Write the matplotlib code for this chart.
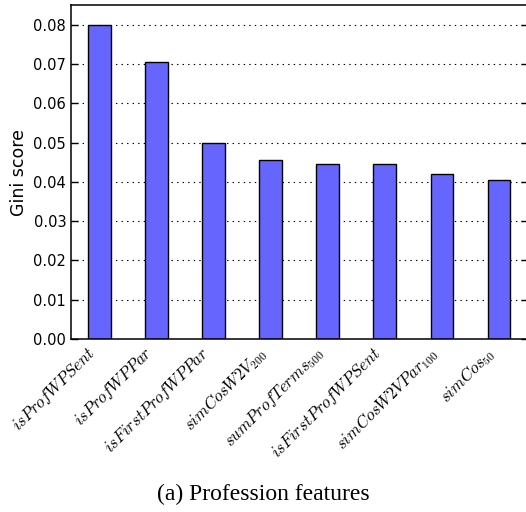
import numpy as np
import matplotlib
matplotlib.use("Agg")
import matplotlib.pyplot as plt

features = [r"$isProfWPSent$", r"$isProfWPPar$", r"$isFirstProfWPPar$",
            r"$simCosW2V_{200}$", r"$sumProfTerms_{500}$", r"$isFirstProfWPSent$",
            r"$simCosW2VPar_{100}$", r"$simCos_{50}$"]
gini = [0.0800, 0.0704, 0.0500, 0.0456, 0.0445, 0.0445, 0.0420, 0.0405]
yticks = [0.00, 0.01, 0.02, 0.03, 0.04, 0.05, 0.06, 0.07, 0.08]

plt.rcParams["mathtext.fontset"] = "cm"
plt.rcParams["lines.scale_dashes"] = False

fig = plt.figure(figsize=(5.26, 5.12), dpi=100)
ax = fig.add_axes([0.135, 0.338, 0.868, 0.652])

x = np.arange(len(gini))
ax.bar(x, gini, width=0.4, color="#6666ff", edgecolor="black", linewidth=1.0, zorder=2)

ax.set_xlim(-0.5, len(gini) - 0.5)
ax.set_ylim(0, 0.085)
ax.set_yticks(yticks)
ax.set_yticklabels(["%.2f" % v for v in yticks], fontsize=10.5)
ax.set_xticks(x)
ax.set_xticklabels(features, rotation=45, ha="right", fontsize=12)
ax.tick_params(axis="y", direction="in", length=5, width=1.0, right=True)
ax.tick_params(axis="x", direction="in", length=0)
ax.yaxis.grid(True, linestyle=(0, (1, 3)), color="black", linewidth=0.8, zorder=1)
ax.set_axisbelow(True)
for s in ax.spines.values():
    s.set_linewidth(1.1)
ax.set_ylabel("Gini score", fontsize=12.5)

fig.text(0.5, 0.035, "(a) Profession features", ha="center", va="center",
         fontsize=17, family="Liberation Serif")

fig.savefig("out.png", dpi=100)
